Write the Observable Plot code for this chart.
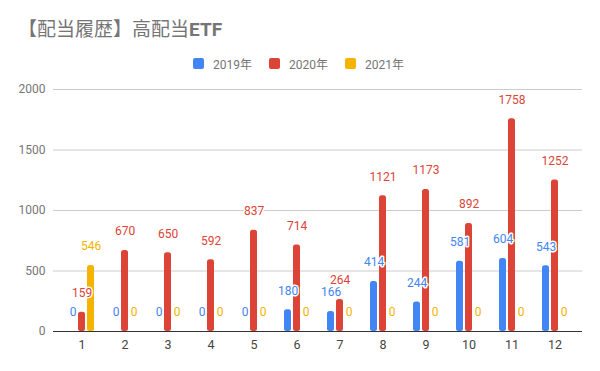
<!DOCTYPE html>
<html>
<head>
<meta charset="utf-8">
<script src="https://cdn.jsdelivr.net/npm/d3@7"></script>
<script src="https://cdn.jsdelivr.net/npm/@observablehq/plot@0.6"></script>
<style>
  body { margin: 0; background: #fff; }
  #wrap { position: relative; width: 600px; height: 371px; overflow: hidden; font-family: Roboto, "Noto Sans CJK JP", sans-serif; }
  #title { position: absolute; left: 18px; top: 18px; font-family: Roboto, "Noto Sans CJK JP", sans-serif; font-size: 19px; line-height: 23px; font-weight: normal; color: #757575; white-space: nowrap; }
  #title b { font-weight: bold; }
  #legend { position: absolute; left: 193px; top: 55px; display: flex; align-items: center; font-size: 12px; color: #757575; font-family: Roboto, "Noto Sans CJK JP", sans-serif; }
  #legend .item { display: flex; align-items: center; margin-right: 17px; }
  #legend .sw { width: 11px; height: 11px; border-radius: 2px; margin-right: 9px; }
  #chart { position: absolute; left: 0; top: 0; }
  #chart svg { overflow: visible; }
  g[aria-label^="x-axis"] text { fill: #444; font-size: 12.5px; }
</style>
</head>
<body>
<div id="wrap">
  <div id="chart"></div>
  <div id="title">【配当履歴】高配当<b>ETF</b></div>
  <div id="legend"></div>
</div>
<script>
const months = [1, 2, 3, 4, 5, 6, 7, 8, 9, 10, 11, 12];
const seriesNames = ["2019年", "2020年", "2021年"];
const seriesColors = ["#4285F4", "#DB4437", "#F4B400"];
const values2019 = [0, 0, 0, 0, 0, 180, 166, 414, 244, 581, 604, 543];
const values2020 = [159, 670, 650, 592, 837, 714, 264, 1121, 1173, 892, 1758, 1252];
const values2021 = [546, 0, 0, 0, 0, 0, 0, 0, 0, 0, 0, 0];
const yTicks = [0, 500, 1000, 1500, 2000];

const allValues = [values2019, values2020, values2021];
const offsets = [-9, 0, 9];

const legend = document.getElementById("legend");
seriesNames.forEach((name, i) => {
  const item = document.createElement("div");
  item.className = "item";
  const sw = document.createElement("div");
  sw.className = "sw";
  sw.style.background = seriesColors[i];
  const t = document.createElement("span");
  t.textContent = name;
  item.appendChild(sw);
  item.appendChild(t);
  legend.appendChild(item);
});

const marks = [
  Plot.ruleY(yTicks.filter(d => d > 0), {stroke: "#cccccc"})
];
allValues.forEach((vals, i) => {
  const rows = months.map((m, j) => ({month: m, value: vals[j]}));
  marks.push(Plot.barY(rows.filter(d => d.value > 0), {
    x: "month", y: "value", fill: seriesColors[i], dx: offsets[i], rx: 2.5
  }));
});
marks.push(Plot.ruleY([0], {stroke: "#333333", strokeWidth: 1.2}));
allValues.forEach((vals, i) => {
  const rows = months.map((m, j) => ({month: m, value: vals[j]}));
  marks.push(Plot.text(rows, {
    x: "month", y: "value", text: d => String(d.value),
    dx: offsets[i], dy: -19, fill: seriesColors[i],
    stroke: "white", strokeWidth: 3, paintOrder: "stroke", fontSize: 12
  }));
});

const chart = Plot.plot({
  width: 600,
  height: 371,
  marginTop: 89,
  marginBottom: 40,
  marginLeft: 53,
  marginRight: 18,
  style: {fontFamily: "Roboto, sans-serif", fontSize: "12px", color: "#757575", background: "transparent"},
  x: {type: "band", domain: months, paddingInner: 0.838, paddingOuter: 0.5415, align: 0.5, tickSize: 0, tickPadding: 9, label: null},
  y: {domain: [0, 2000], ticks: yTicks, tickFormat: d => String(d), tickSize: 0, tickPadding: 8, label: null},
  marks
});
document.getElementById("chart").appendChild(chart);
</script>
</body>
</html>
